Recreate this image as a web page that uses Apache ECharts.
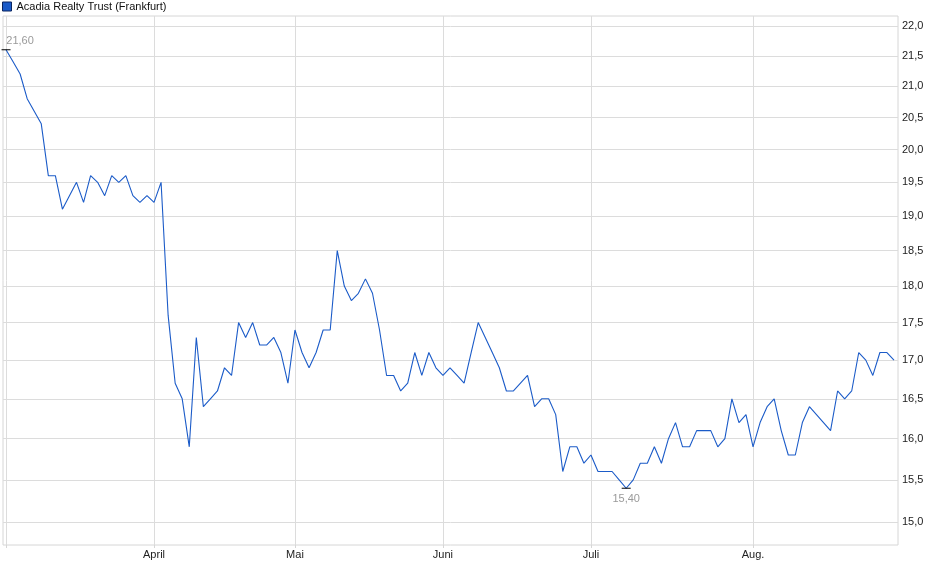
<!DOCTYPE html>
<html>
<head>
<meta charset="utf-8">
<script src="https://cdn.jsdelivr.net/npm/echarts@6/dist/echarts.min.js"></script>
<style>
  html, body { margin: 0; padding: 0; background: #fff; }
  #chart { width: 940px; height: 579px; }
</style>
</head>
<body>
<div id="chart"></div>
<script>
// Schlusskurse (EUR), ein Wert pro Handelstag
var prices = [
    21.6, 21.4, 21.2, 20.8, 20.6, 20.4, 19.6, 19.6, 19.1, 19.3,
    19.5, 19.2, 19.6, 19.5, 19.3, 19.6, 19.5, 19.6, 19.3, 19.2,
    19.3, 19.2, 19.5, 17.6, 16.7, 16.5, 15.9, 17.3, 16.4, 16.5,
    16.6, 16.9, 16.8, 17.5, 17.3, 17.5, 17.2, 17.2, 17.3, 17.1,
    16.7, 17.4, 17.1, 16.9, 17.1, 17.4, 17.4, 18.5, 18.0, 17.8,
    17.9, 18.1, 17.9, 17.4, 16.8, 16.8, 16.6, 16.7, 17.1, 16.8,
    17.1, 16.9, 16.8, 16.9, 16.8, 16.7, 17.1, 17.5, 17.3, 17.1,
    16.9, 16.6, 16.6, 16.7, 16.8, 16.4, 16.5, 16.5, 16.3, 15.6,
    15.9, 15.9, 15.7, 15.8, 15.6, 15.6, 15.6, 15.5, 15.4, 15.5,
    15.7, 15.7, 15.9, 15.7, 16.0, 16.2, 15.9, 15.9, 16.1, 16.1,
    16.1, 15.9, 16.0, 16.5, 16.2, 16.3, 15.9, 16.2, 16.4, 16.5,
    16.1, 15.8, 15.8, 16.2, 16.4, 16.3, 16.2, 16.1, 16.6, 16.5,
    16.6, 17.1, 17.0, 16.8, 17.1, 17.1, 17.0
];

// erster Handelstag jedes Monats (Index in prices)
var monthStarts = [21, 41, 62, 83, 106];
var monthNames = ['April', 'Mai', 'Juni', 'Juli', 'Aug.'];

// Beschriftung der Kursachse
var yTicks = [15.0, 15.5, 16.0, 16.5, 17.0, 17.5, 18.0, 18.5, 19.0, 19.5, 20.0, 20.5, 21.0, 21.5, 22.0];

var seriesName = 'Acadia Realty Trust (Frankfurt)';
var lineColor = '#1b5bc8';

function komma(v, d) {
    return v.toFixed(d).replace('.', ',');
}

var chart = echarts.init(document.getElementById('chart'));

var option = {
    animation: false,
    textStyle: { fontFamily: 'Liberation Sans, Arial, sans-serif' },
    legend: {
        left: 2,
        top: 1,
        padding: 0,
        itemWidth: 9,
        itemHeight: 9,
        itemGap: 4,
        icon: 'rect',
        itemStyle: { color: lineColor, borderColor: '#0b2560', borderWidth: 1 },
        textStyle: { fontSize: 11, color: '#111' },
        data: [seriesName]
    },
    grid: {
        left: 3,
        right: 42,
        top: 16,
        bottom: 34,
        show: true,
        borderColor: '#d6d6d6',
        borderWidth: 1
    },
    xAxis: {
        type: 'value',
        min: -0.43,
        max: prices.length - 1 + 0.57,
        axisLine: { show: false },
        axisTick: {
            show: true,
            length: 3,
            lineStyle: { color: '#d6d6d6' },
            customValues: [0].concat(monthStarts)
        },
        axisLabel: {
            customValues: monthStarts,
            fontSize: 11,
            color: '#222',
            margin: 4,
            formatter: function (v) {
                var k = monthStarts.indexOf(Math.round(v));
                return k >= 0 ? monthNames[k] : '';
            }
        },
        splitLine: { show: true, lineStyle: { color: '#dcdcdc', width: 1 } }
    },
    yAxis: {
        type: 'log',
        logBase: 10,
        position: 'right',
        min: 14.74,
        max: 22.17,
        axisLine: { show: false },
        axisTick: { show: false, customValues: yTicks },
        axisLabel: {
            customValues: yTicks,
            fontSize: 11,
            color: '#222',
            margin: 4,
            formatter: function (v) { return komma(v, 1); }
        },
        splitLine: { show: true, lineStyle: { color: '#dcdcdc', width: 1 } }
    },
    series: [{
        name: seriesName,
        type: 'line',
        symbol: 'none',
        lineStyle: { color: lineColor, width: 1.1 },
        itemStyle: { color: lineColor },
        data: prices.map(function (v, i) { return [i, v]; }),
        markPoint: {
            silent: true,
            symbol: 'rect',
            symbolSize: [9, 1],
            itemStyle: { color: '#000' },
            data: [
                {
                    type: 'max',
                    label: { position: 'top', distance: 3, offset: [14, 0] }
                },
                {
                    type: 'min',
                    label: { position: 'bottom', distance: 5 }
                }
            ],
            label: {
                show: true,
                color: '#9a9a9a',
                fontSize: 11,
                formatter: function (p) { return komma(p.value, 2); }
            }
        }
    }]
};

chart.setOption(option);
</script>
</body>
</html>
